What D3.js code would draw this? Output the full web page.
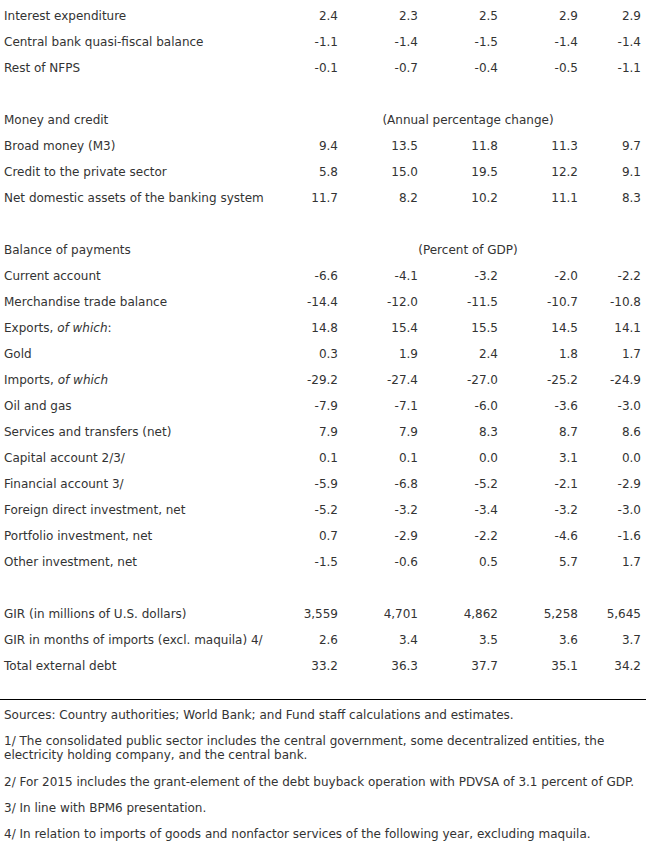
<!DOCTYPE html>
<html>
<head>
<meta charset="utf-8">
<script src="https://cdn.jsdelivr.net/npm/d3@7"></script>
<style>
	body { margin: 0; background: #fff; }
	svg text { font-family: 'DejaVu Sans', Verdana, sans-serif; font-size: 12px; fill: #333; }
	.rule { stroke: #000; stroke-width: 1; shape-rendering: crispEdges; }
</style>
</head>
<body>
<svg id="tbl" width="646" height="844"></svg>
<script>
const columns = ['c1', 'c2', 'c3', 'c4', 'c5']

// row labels, '' = blank spacer row
const labels = [
	'Interest expenditure',
	'Central bank quasi-fiscal balance',
	'Rest of NFPS',
	'',
	'Money and credit',
	'Broad money (M3)',
	'Credit to the private sector',
	'Net domestic assets of the banking system',
	'',
	'Balance of payments',
	'Current account',
	'Merchandise trade balance',
	'Exports, |of which|:',
	'Gold',
	'Imports, |of which|',
	'Oil and gas',
	'Services and transfers (net)',
	'Capital account 2/3/',
	'Financial account 3/',
	'Foreign direct investment, net',
	'Portfolio investment, net',
	'Other investment, net',
	'',
	'GIR (in millions of U.S. dollars)',
	'GIR in months of imports (excl. maquila) 4/',
	'Total external debt'
]

const values = [
	['2.4', '2.3', '2.5', '2.9', '2.9'],
	['-1.1', '-1.4', '-1.5', '-1.4', '-1.4'],
	['-0.1', '-0.7', '-0.4', '-0.5', '-1.1'],
	null,
	null,
	['9.4', '13.5', '11.8', '11.3', '9.7'],
	['5.8', '15.0', '19.5', '12.2', '9.1'],
	['11.7', '8.2', '10.2', '11.1', '8.3'],
	null,
	null,
	['-6.6', '-4.1', '-3.2', '-2.0', '-2.2'],
	['-14.4', '-12.0', '-11.5', '-10.7', '-10.8'],
	['14.8', '15.4', '15.5', '14.5', '14.1'],
	['0.3', '1.9', '2.4', '1.8', '1.7'],
	['-29.2', '-27.4', '-27.0', '-25.2', '-24.9'],
	['-7.9', '-7.1', '-6.0', '-3.6', '-3.0'],
	['7.9', '7.9', '8.3', '8.7', '8.6'],
	['0.1', '0.1', '0.0', '3.1', '0.0'],
	['-5.9', '-6.8', '-5.2', '-2.1', '-2.9'],
	['-5.2', '-3.2', '-3.4', '-3.2', '-3.0'],
	['0.7', '-2.9', '-2.2', '-4.6', '-1.6'],
	['-1.5', '-0.6', '0.5', '5.7', '1.7'],
	null,
	['3,559', '4,701', '4,862', '5,258', '5,645'],
	['2.6', '3.4', '3.5', '3.6', '3.7'],
	['33.2', '36.3', '37.7', '35.1', '34.2']
]

// unit notes shown on section header rows
const unitNotes = [
	{ row: 4, text: '(Annual percentage change)' },
	{ row: 9, text: '(Percent of GDP)' }
]

const footnotes = [
	['Sources: Country authorities; World Bank; and Fund staff calculations and estimates.'],
	['1/ The consolidated public sector includes the central government, some decentralized entities, the',
	 'electricity holding company, and the central bank.'],
	['2/ For 2015 includes the grant-element of the debt buyback operation with PDVSA of 3.1 percent of GDP.'],
	['3/ In line with BPM6 presentation.'],
	['4/ In relation to imports of goods and nonfactor services of the following year, excluding maquila.']
]

const rowH = 26
const labelX = 4

const svg = d3.select('#tbl')

// row index -> text baseline
const yScale = d3.scaleLinear()
	.domain([0, 1])
	.range([20, 20 + rowH])

const xScale = d3.scaleOrdinal()
	.domain(columns)
	.range([338, 418, 498, 578, 641])

const noteX = 468

// labels, with |...| marking italic parts
const rows = svg.append('g').attr('class', 'rows')

const rowG = rows.selectAll('g')
	.data(labels.map((l, i) => ({ label: l, vals: values[i], i })))
	.enter()
	.append('g')
	.attr('transform', d => `translate(0, ${yScale(d.i)})`)

rowG.append('text')
	.attr('x', labelX)
	.each(function(d) {
		const t = d3.select(this)
		d.label.split('|').forEach((part, k) => {
			if(part === '') return
			t.append('tspan')
				.style('font-style', k % 2 ? 'italic' : 'normal')
				.text(part)
		})
	})

rowG.filter(d => d.vals)
	.selectAll('text.val')
	.data(d => d.vals.map((v, k) => ({ v, col: columns[k] })))
	.enter()
	.append('text')
	.attr('class', 'val')
	.attr('x', d => xScale(d.col))
	.attr('text-anchor', 'end')
	.text(d => d.v)

svg.append('g')
	.selectAll('text')
	.data(unitNotes)
	.enter()
	.append('text')
	.attr('x', noteX)
	.attr('y', d => yScale(d.row))
	.attr('text-anchor', 'middle')
	.text(d => d.text)

// rule under the table
const ruleY = 699.5
svg.append('line')
	.attr('class', 'rule')
	.attr('x1', 0)
	.attr('x2', 646)
	.attr('y1', ruleY)
	.attr('y2', ruleY)

// footnotes (baselines)
const fnBase = [719, 745, 786, 812, 838]
const fn = svg.append('g').attr('class', 'footnotes')

fn.selectAll('text')
	.data(footnotes)
	.enter()
	.append('text')
	.attr('x', labelX)
	.attr('y', (d, i) => fnBase[i])
	.each(function(d) {
		d3.select(this).selectAll('tspan')
			.data(d)
			.enter()
			.append('tspan')
			.attr('x', labelX)
			.attr('dy', (l, k) => k ? 14 : 0)
			.text(l => l)
	})
</script>
</body>
</html>
